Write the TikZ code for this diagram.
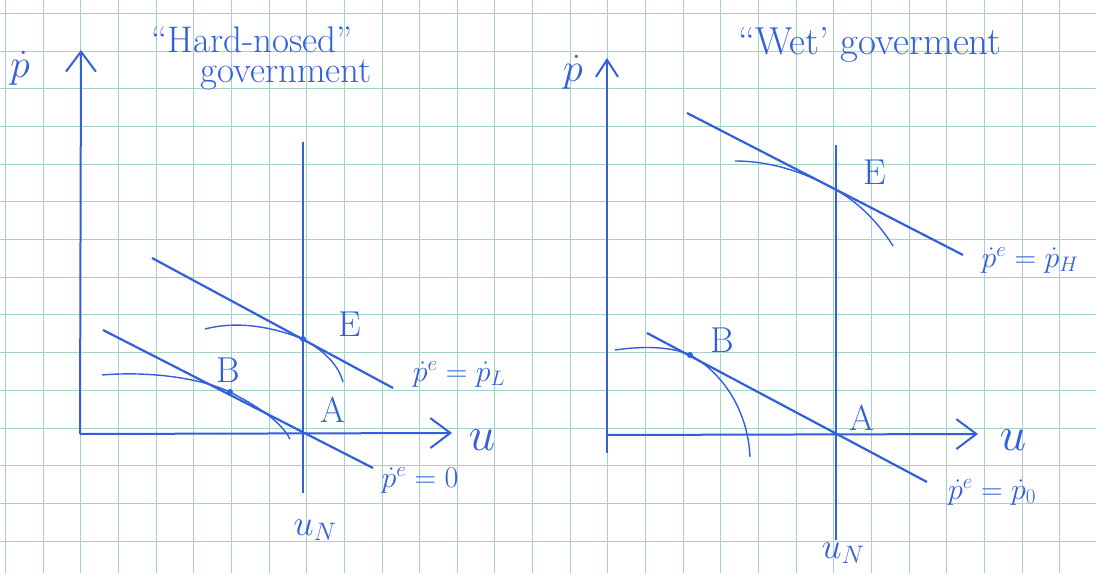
\RequirePackage{fix-cm}
\documentclass[tikz,border=0pt]{standalone}
\usepackage{amsmath}
\usepackage{tikz}
\usetikzlibrary{arrows.meta}
\definecolor{ink}{RGB}{50,95,220}
\definecolor{gridline}{RGB}{165,210,195}
\tikzset{
    axis/.style={-{Straight Barb[length=20pt,width=30pt]}, line width=2pt, ink},
    axissmall/.style={-{Straight Barb[length=17pt,width=22pt]}, line width=2pt, ink},
    sched/.style={line width=2.2pt, ink},
    natural/.style={line width=2pt, ink},
    phillips/.style={line width=1.4pt, ink},
    lbl/.style={text=ink, inner sep=0pt, font=\fontsize{30}{36}\selectfont},
    pname/.style={text=ink, inner sep=0pt, font=\fontsize{36}{40}\selectfont},
    ulbl/.style={text=ink, inner sep=0pt, font=\fontsize{48}{52}\selectfont},
    heading/.style={text=ink, inner sep=0pt, font=\fontsize{37}{40}\selectfont}
}

\begin{document}
\begin{tikzpicture}[x=1pt, y=-1pt]
    \fill[white] (0,0) rectangle (1096,573);
    \useasboundingbox (0,0) rectangle (1096,573);
    % squared paper
    \foreach \k in {0,...,29} \draw[gridline, line width=1pt] ({5.5+37.65*\k},0) -- ++(0,573);
    \foreach \k in {0,...,14} \draw[gridline, line width=1pt] (0,{13.3+37.7*\k}) -- ++(1096,0);

    % left panel: hard-nosed government
    \coordinate (origL) at (80,434);
    \coordinate (ytipL) at (81,50);
    \coordinate (xtipL) at (452,433);
    \draw[axis] (origL) -- (ytipL);
    \draw[axis] (origL) -- (xtipL);
    \coordinate (unL0) at (303,142); \coordinate (unL1) at (303,493);
    \draw[natural] (unL0) -- (unL1);
    \coordinate (hiL0) at (152,258); \coordinate (hiL1) at (393,388);
    \coordinate (loL0) at (103,330); \coordinate (loL1) at (373,468);
    \draw[sched] (hiL0) -- (hiL1);
    \draw[sched] (loL0) -- (loL1);
    \coordinate (E1) at (303,339);
    \coordinate (A1) at (303,433);
    \coordinate (B1) at (230,392);
    \coordinate (cE1a) at (205,329); \coordinate (cE1b) at (343,382);
    \coordinate (cB1a) at (102,375); \coordinate (cB1b) at (290,439);
    \draw[phillips] (cE1a) .. controls (240,320) and (275,328) .. (E1) .. controls (324,351) and (338,364) .. (cE1b);
    \draw[phillips] (cB1a) .. controls (150,371) and (200,378) .. (B1) .. controls (255,405) and (280,420) .. (cB1b);
    \fill[ink] (E1) circle (3pt);
    \fill[ink] (B1) circle (3pt);
    \node[lbl, font=\fontsize{40}{44}\selectfont] (pdotL) at (20,68) {$\dot{p}$};
    \node[heading] (titleL1) at (252,40) {``Hard-nosed''};
    \node[heading] (titleL2) at (286,75) {government};
    \node[pname] (labE1) at (350,324) {E};
    \node[pname] (labA1) at (333,410) {A};
    \node[pname] (labB1) at (228,370) {B};
    \node[ulbl] (uL) at (482,440) {$u$};
    \node[lbl, font=\fontsize{36}{40}\selectfont] (uNL) at (315,530) {$u_N$};
    \node[lbl] (peL) at (459,374) {$\dot{p}^e = \dot{p}_L$};
    \node[lbl] (pe0L) at (420,480) {$\dot{p}^e = 0$};

    % right panel: wet government
    \coordinate (ybotR) at (607,453);
    \coordinate (ytipR) at (607,58);
    \coordinate (origR) at (607,435);
    \coordinate (xtipR) at (978,434);
    \draw[axissmall] (ybotR) -- (ytipR);
    \draw[axis] (origR) -- (xtipR);
    \coordinate (unR0) at (836,145); \coordinate (unR1) at (836,540);
    \draw[natural] (unR0) -- (unR1);
    \coordinate (hiR0) at (687,113); \coordinate (hiR1) at (963,255);
    \coordinate (loR0) at (647,333); \coordinate (loR1) at (927,482);
    \draw[sched] (hiR0) -- (hiR1);
    \draw[sched] (loR0) -- (loR1);
    \coordinate (E2) at (836,190);
    \coordinate (A2) at (836,434);
    \coordinate (B2) at (690,355);
    \coordinate (cE2a) at (735,161); \coordinate (cE2b) at (893,246);
    \coordinate (cB2a) at (615,350); \coordinate (cB2b) at (750,457);
    \draw[phillips] (cE2a) .. controls (770,161) and (805,172) .. (E2) .. controls (860,203) and (880,225) .. (cE2b);
    \draw[phillips] (cB2a) .. controls (650,345) and (675,348) .. (B2) .. controls (722,372) and (748,410) .. (cB2b);
    \fill[ink] (B2) circle (3pt);
    \node[lbl, font=\fontsize{40}{44}\selectfont] (pdotR) at (573,72) {$\dot{p}$};
    \node[heading, font=\fontsize{39}{42}\selectfont] (titleR) at (870,45) {``Wet' goverment};
    \node[pname] (labE2) at (875,172) {E};
    \node[pname] (labA2) at (862,418) {A};
    \node[pname] (labB2) at (722,340) {B};
    \node[ulbl] (uR) at (1013,440) {$u$};
    \node[lbl, font=\fontsize{36}{40}\selectfont] (uNR) at (843,553) {$u_N$};
    \node[lbl] (peH) at (1030,260) {$\dot{p}^e = \dot{p}_H$};
    \node[lbl] (pe0R) at (992,492) {$\dot{p}^e = \dot{p}_0$};
\end{tikzpicture}
\end{document}
